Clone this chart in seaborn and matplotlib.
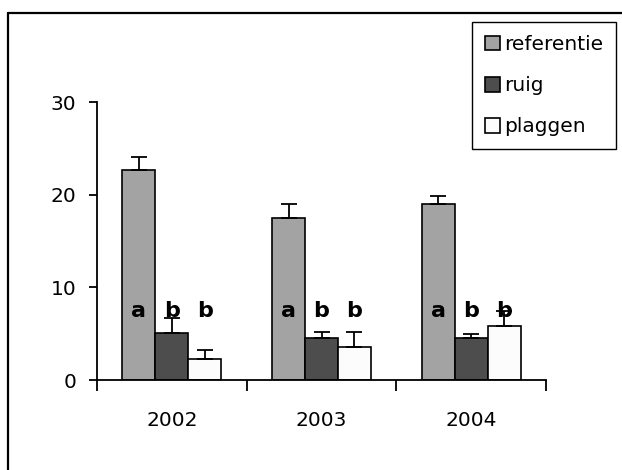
import matplotlib
matplotlib.use("Agg")
import matplotlib.pyplot as plt
from matplotlib.lines import Line2D
import numpy as np
import pandas as pd
import seaborn as sns

# Years and treatments
years = ["2002", "2003", "2004"]
treatments = ["referentie", "ruig", "plaggen"]

# Mean values per treatment (one value per year)
referentie = [22.7, 17.5, 19.0]
ruig = [5.1, 4.5, 4.5]
plaggen = [2.3, 3.6, 5.8]

# Standard errors (drawn upward only)
referentie_se = [1.35, 1.5, 0.9]
ruig_se = [1.6, 0.7, 0.5]
plaggen_se = [0.9, 1.55, 1.65]

# Significance letters per treatment
letters = {"referentie": ["a", "a", "a"],
           "ruig": ["b", "b", "b"],
           "plaggen": ["b", "b", "b"]}

y_ticks = [0, 10, 20, 30]

values = {"referentie": referentie, "ruig": ruig, "plaggen": plaggen}
errors = {"referentie": referentie_se, "ruig": ruig_se, "plaggen": plaggen_se}

df = pd.DataFrame(
    [(y, t, values[t][i]) for t in treatments for i, y in enumerate(years)],
    columns=["jaar", "behandeling", "waarde"],
)

sns.set_style("ticks")
plt.rcParams["font.family"] = ["DejaVu Sans"]
plt.rcParams["text.color"] = "black"
plt.rcParams["xtick.color"] = "black"
plt.rcParams["ytick.color"] = "black"

W, H = 622, 470
fig = plt.figure(figsize=(W / 100, H / 100), dpi=100)
ax = fig.add_axes([97 / W, 1 - 380 / H, (546 - 97) / W, (380 - 102) / H])

palette = {"referentie": "#a3a3a3", "ruig": "#4d4d4d", "plaggen": "#fcfcfc"}
sns.barplot(data=df, x="jaar", y="waarde", hue="behandeling",
            order=years, hue_order=treatments, palette=palette,
            width=0.66, gap=0, errorbar=None, edgecolor="black",
            linewidth=1.2, saturation=1, legend=False, ax=ax)

# Error bars and significance letters on each bar
for t, cont in zip(treatments, ax.containers):
    xs = [b.get_x() + b.get_width() / 2 for b in cont]
    hs = [b.get_height() for b in cont]
    ax.errorbar(xs, hs, yerr=[np.zeros(len(hs)), errors[t]], fmt="none",
                ecolor="black", elinewidth=1.3, capsize=6, capthick=1.3,
                zorder=4)
    for x, lab in zip(xs, letters[t]):
        ax.text(x, 6.85, lab, ha="center", va="baseline", fontsize=16,
                fontweight="bold", color="black", zorder=3)

ax.set_ylim(0, 30)
ax.set_xlim(-0.5, len(years) - 0.5)
ax.set_yticks(y_ticks)
ax.set_yticklabels([str(v) for v in y_ticks])
ax.set_xticks(np.arange(len(years) + 1) - 0.5)
ax.set_xticklabels([])
ax.set_xticks(np.arange(len(years)), minor=True)
ax.set_xticklabels(years, minor=True)
ax.tick_params(axis="x", which="major", length=8, width=1.3, direction="out",
               color="black")
ax.tick_params(axis="x", which="minor", length=0, pad=22, labelsize=14.5,
               labelcolor="black")
ax.tick_params(axis="y", length=6, width=1.3, pad=9, labelsize=14.5,
               direction="out", color="black", labelcolor="black")
ax.set_xlabel("")
ax.set_ylabel("")
for s in ["top", "right"]:
    ax.spines[s].set_visible(False)
for s in ["left", "bottom"]:
    ax.spines[s].set_linewidth(1.3)
    ax.spines[s].set_color("black")

leg = ax.legend(ax.containers, treatments, loc="upper right",
                bbox_to_anchor=(616 / W, 1 - 22 / H),
                bbox_transform=fig.transFigure, frameon=True, fancybox=False,
                edgecolor="black", framealpha=1, fontsize=14.5,
                handlelength=0.75, handleheight=0.75, handletextpad=0.2,
                labelspacing=1.1, borderpad=0.65, borderaxespad=0)
leg.get_frame().set_linewidth(1.0)
for txt in leg.get_texts():
    txt.set_color("black")

# Chart area border (left and top edges)
fig.add_artist(Line2D([8 / W, 8 / W], [0, 1 - 12.7 / H],
                      transform=fig.transFigure, color="black", lw=1.6))
fig.add_artist(Line2D([8 / W, 1], [1 - 12.7 / H, 1 - 12.7 / H],
                      transform=fig.transFigure, color="black", lw=1.6))

fig.savefig("out.png", dpi=100)
